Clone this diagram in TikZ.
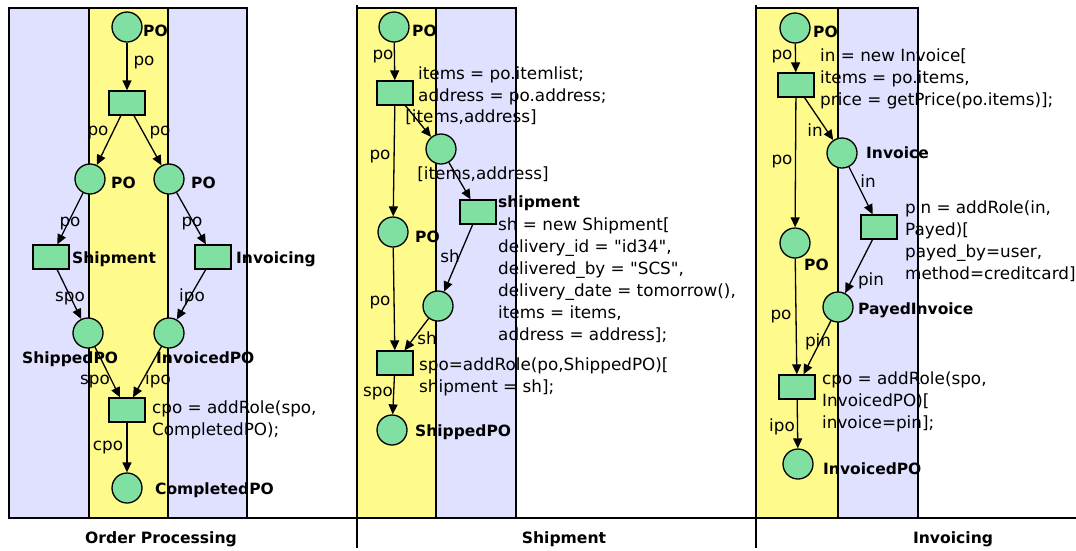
\documentclass[tikz,border=0pt]{standalone}
\usepackage{fontspec}
\setmainfont{DejaVu Sans}[Ligatures=TeXOff]
\usetikzlibrary{arrows.meta}
\definecolor{laneyellow}{RGB}{255,250,140}
\definecolor{laneblue}{RGB}{224,224,255}
\definecolor{petri}{RGB}{128,224,162}
\newcommand{\codesize}{\fontsize{16.8}{22}\selectfont}
\newcommand{\namesize}{\fontsize{15.5}{19}\selectfont\bfseries}
\tikzset{
  place/.style={circle, draw, fill=petri, minimum size=30pt, inner sep=0pt, line width=1.3pt},
  trans/.style={rectangle, draw, fill=petri, minimum width=36pt, minimum height=24pt, inner sep=0pt, line width=1.3pt},
  arc/.style={-{Triangle[length=10pt,width=9pt]}, line width=1.3pt},
  lane/.style={draw, line width=1.3pt},
  ylane/.style={lane, fill=laneyellow},
  blane/.style={lane, fill=laneblue},
  pname/.style={anchor=base west, inner sep=0pt, font=\namesize},
  alabel/.style={anchor=base, inner sep=0pt, font=\codesize},
  code/.style={anchor=north west, inner sep=0pt, align=left, font=\codesize},
  title/.style={anchor=base, inner sep=0pt, font=\fontsize{15.6}{19}\selectfont\bfseries}
}
\begin{document}
\begin{tikzpicture}[x=1pt,y=-1pt]
\useasboundingbox (0,0) rectangle (1076,550);
\fill[white] (0,0) rectangle (1076,550);

% swimlanes
\draw[blane] (9,8) rectangle (89,518);
\draw[ylane] (89,8) rectangle (168,518);
\draw[blane] (168,8) rectangle (247,518);
\draw[ylane] (357,8) rectangle (436,518);
\draw[blane] (436,8) rectangle (516,518);
\draw[ylane] (756,8) rectangle (838,518);
\draw[blane] (838,8) rectangle (918,518);

% frame lines
\draw[line width=1.3pt] (9,518) -- (1076,518);
\draw[line width=1.3pt] (357,5) -- (357,548);
\draw[line width=1.3pt] (756,5) -- (756,548);

\node[title] (tt1) at (161,543) {Order Processing};
\node[title] (tt2) at (564,543) {Shipment};
\node[title] (tt3) at (953,543) {Invoicing};

% ---- Order Processing ----
\node[place] (p1) at (127,27) {};
\node[trans] (t1) at (127,103) {};
\node[place] (p2) at (90,179) {};
\node[place] (p3) at (169,179) {};
\node[trans] (t2) at (51,257) {};
\node[trans] (t3) at (213,257) {};
\node[place] (p4) at (88,333) {};
\node[place] (p5) at (169,333) {};
\node[trans] (t4) at (127,410) {};
\node[place] (p6) at (127,488) {};

\node[pname] (p1n) at (143,36) {PO};
\node[pname] (p2n) at (111,188) {PO};
\node[pname] (p3n) at (191,188) {PO};
\node[pname] (t2n) at (72,263) {Shipment};
\node[pname] (t3n) at (236,263) {Invoicing};
\node[pname] (p4n) at (22,363) {ShippedPO};
\node[pname] (p5n) at (156,363) {InvoicedPO};
\node[pname] (p6n) at (155,494) {CompletedPO};
\node[code] (t4c) at (152,401) {cpo = addRole(spo,\\CompletedPO);};

\draw[arc] (p1) -- (t1);
\draw[arc] (t1) -- (p2);
\draw[arc] (t1) -- (p3);
\draw[arc] (p2) -- (t2);
\draw[arc] (p3) -- (t3);
\draw[arc] (t2) -- (p4);
\draw[arc] (t3) -- (p5);
\draw[arc] (p4) -- ([xshift=-7pt]t4.north);
\draw[arc] (p5) -- ([xshift=6pt]t4.north);
\draw[arc] (t4) -- (p6);

\node[alabel] (a1) at (144,65) {po};
\node[alabel] (a2) at (98,135) {po};
\node[alabel] (a3) at (160,135) {po};
\node[alabel] (a4) at (70,226) {po};
\node[alabel] (a5) at (192,226) {po};
\node[alabel] (a6) at (70,301) {spo};
\node[alabel] (a7) at (192,301) {ipo};
\node[alabel] (a8) at (95,384) {spo};
\node[alabel] (a9) at (158,384) {ipo};
\node[alabel] (a10) at (108,450) {cpo};

% ---- Shipment ----
\node[place] (q1) at (394,27) {};
\node[trans] (s1) at (395,93) {};
\node[place] (q2) at (441,149) {};
\node[trans] (s2) at (478,212) {};
\node[place] (q3) at (393,232) {};
\node[place] (q4) at (438,306) {};
\node[trans] (s3) at (395,363) {};
\node[place] (q5) at (392,430) {};

\node[pname] (q1n) at (412,36) {PO};
\node[pname] (s2n) at (498,207) {shipment};
\node[pname] (q3n) at (415,242) {PO};
\node[pname] (q5n) at (415,436) {ShippedPO};
\node[code] (s1c) at (418,67) {items = po.itemlist;\\address = po.address;};
\node[code] (s2c) at (498,218) {sh = new Shipment[\\delivery\_id = "id34",\\delivered\_by = "SCS",\\delivery\_date = tomorrow(),\\items = items,\\address = address];};
\node[code] (s3c) at (419,358) {spo=addRole(po,ShippedPO)[\\shipment = sh];};

\draw[arc] (q1) -- (s1);
\draw[arc] (s1) -- (q2);
\draw[arc] (q2) -- (s2);
\draw[arc] (s1) -- (q3);
\draw[arc] (s2) -- (q4);
\draw[arc] (q3) -- (s3);
\draw[arc] (q4) -- (s3);
\draw[arc] (s3) -- (q5);

\node[alabel] (b1) at (383,59) {po};
\node[alabel] (b2) at (471,122) {[items,address]};
\node[alabel] (b3) at (483,179) {[items,address]};
\node[alabel] (b4) at (380,159) {po};
\node[alabel] (b5) at (450,262) {sh};
\node[alabel] (b6) at (380,305) {po};
\node[alabel] (b7) at (427,344) {sh};
\node[alabel] (b8) at (378,396) {spo};

% ---- Invoicing ----
\node[place] (r1) at (795,28) {};
\node[trans] (u1) at (796,85) {};
\node[place] (r2) at (842,153) {};
\node[place] (r3) at (795,243) {};
\node[trans] (u2) at (879,227) {};
\node[place] (r4) at (838,307) {};
\node[trans] (u3) at (797,387) {};
\node[place] (r5) at (798,464) {};

\node[pname] (r1n) at (813,37) {PO};
\node[pname] (r2n) at (866,158) {Invoice};
\node[pname] (r3n) at (804,270) {PO};
\node[pname] (r4n) at (858,314) {PayedInvoice};
\node[pname] (r5n) at (823,474) {InvoicedPO};
\node[code] (u1c) at (820,49) {in = new Invoice[\\items = po.items,\\price = getPrice(po.items)];};
\node[code] (u2c) at (905,201) {pin = addRole(in,\\Payed)[\\payed\_by=user,\\method=creditcard]};
\node[code] (u3c) at (822,372) {cpo = addRole(spo,\\InvoicedPO)[\\invoice=pin];};

\draw[arc] (r1) -- (u1);
\draw[arc] (u1) -- (r2);
\draw[arc] (u1) -- (r3);
\draw[arc] (r2) -- (u2);
\draw[arc] (u2) -- (r4);
\draw[arc] (r3) -- (u3);
\draw[arc] (r4) -- (u3);
\draw[arc] (u3) -- (r5);

\node[alabel] (c1) at (782,59) {po};
\node[alabel] (c2) at (815,136) {in};
\node[alabel] (c3) at (782,164) {po};
\node[alabel] (c4) at (868,187) {in};
\node[alabel] (c5) at (871,285) {pin};
\node[alabel] (c6) at (781,319) {po};
\node[alabel] (c7) at (818,346) {pin};
\node[alabel] (c8) at (782,431) {ipo};
\end{tikzpicture}
\end{document}
